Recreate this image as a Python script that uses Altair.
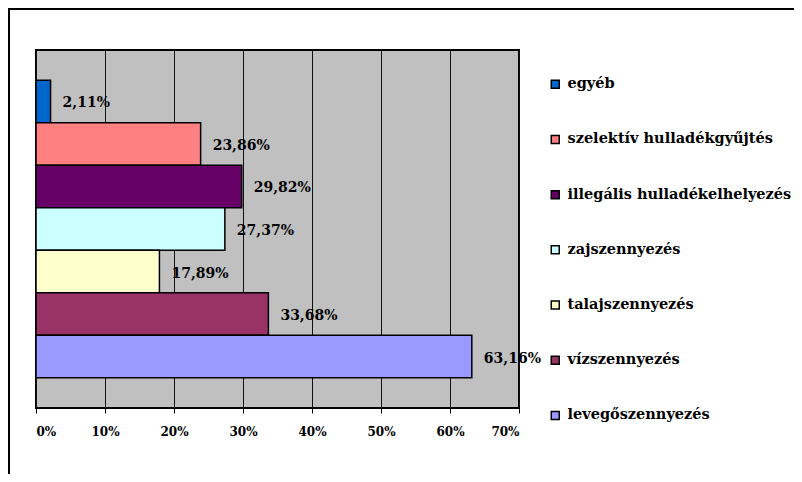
import altair as alt
import pandas as pd

categories = ["egyéb", "szelektív hulladékgyűjtés", "illegális hulladékelhelyezés",
              "zajszennyezés", "talajszennyezés", "vízszennyezés", "levegőszennyezés"]
values = [2.11, 23.86, 29.82, 27.37, 17.89, 33.68, 63.16]
colors = ["#0066CC", "#FF8080", "#660066", "#CCFFFF", "#FFFFCC", "#993366", "#9999FF"]
ticks = [0, 10, 20, 30, 40, 50, 60, 70]

df = pd.DataFrame({
    "cat": categories,
    "val": values,
    "label": [f"{v:.2f}".replace(".", ",") + "%" for v in values],
})

FONT = "DejaVu Serif"
W, H = 483, 358
PL, PT = 28, 42
TOTAL_W, TOTAL_H = 786, 466

y_enc = alt.Y("cat:N", sort=categories, axis=None,
              scale=alt.Scale(paddingInner=0, paddingOuter=0.71))
x_enc = alt.X("val:Q", title=None,
              scale=alt.Scale(domain=[0, 70], nice=False),
              axis=alt.Axis(values=ticks, labelExpr="datum.value + '%'",
                            grid=True, gridColor="#111111", gridWidth=1,
                            domain=False, tickColor="#000000", tickSize=5,
                            labelPadding=13, labelFont=FONT, labelFontWeight="bold",
                            labelFontSize=12, labelColor="#000000"))

bars = alt.Chart(df).mark_bar(stroke="#000000", strokeWidth=1.5).encode(
    x=x_enc,
    y=y_enc,
    color=alt.Color("cat:N", sort=categories,
                    scale=alt.Scale(domain=categories, range=colors),
                    legend=alt.Legend(title=None, orient="none", legendX=512, legendY=27,
                                      symbolType="square", symbolSize=64,
                                      symbolStrokeColor="#000000", symbolStrokeWidth=1.5,
                                      labelFont=FONT, labelFontWeight="bold",
                                      labelFontSize=14.5, labelColor="#000000",
                                      labelOffset=5, rowPadding=39.2, labelLimit=300)),
)

labels = alt.Chart(df).mark_text(align="left", baseline="middle", dx=12, dy=2,
                                 font=FONT, fontWeight="bold", fontSize=14,
                                 color="#000000").encode(
    x=alt.X("val:Q"),
    y=alt.Y("cat:N", sort=categories),
    text="label:N",
)

frame_top = alt.Chart(df).mark_rule(color="#000000", strokeWidth=2).encode(
    x=alt.value(-PL), x2=alt.value(TOTAL_W - PL), y=alt.value(-PT + 1))
frame_left = alt.Chart(df).mark_rule(color="#000000", strokeWidth=2).encode(
    x=alt.value(-PL + 1), y=alt.value(-PT), y2=alt.value(TOTAL_H - PT))

chart = alt.layer(bars, labels, frame_top, frame_left).properties(
    width=W, height=H,
    background="#FFFFFF",
    autosize=alt.AutoSizeParams(type="none"),
    padding={"left": PL, "top": PT, "right": TOTAL_W - PL - W, "bottom": TOTAL_H - PT - H},
).configure_view(
    fill="#C0C0C0", stroke="#000000", strokeWidth=2
).configure_legend(
    labelFont=FONT, labelFontWeight="bold", labelFontSize=14.5
)

chart.save("out.html", embed_options={"renderer": "svg", "actions": False})
